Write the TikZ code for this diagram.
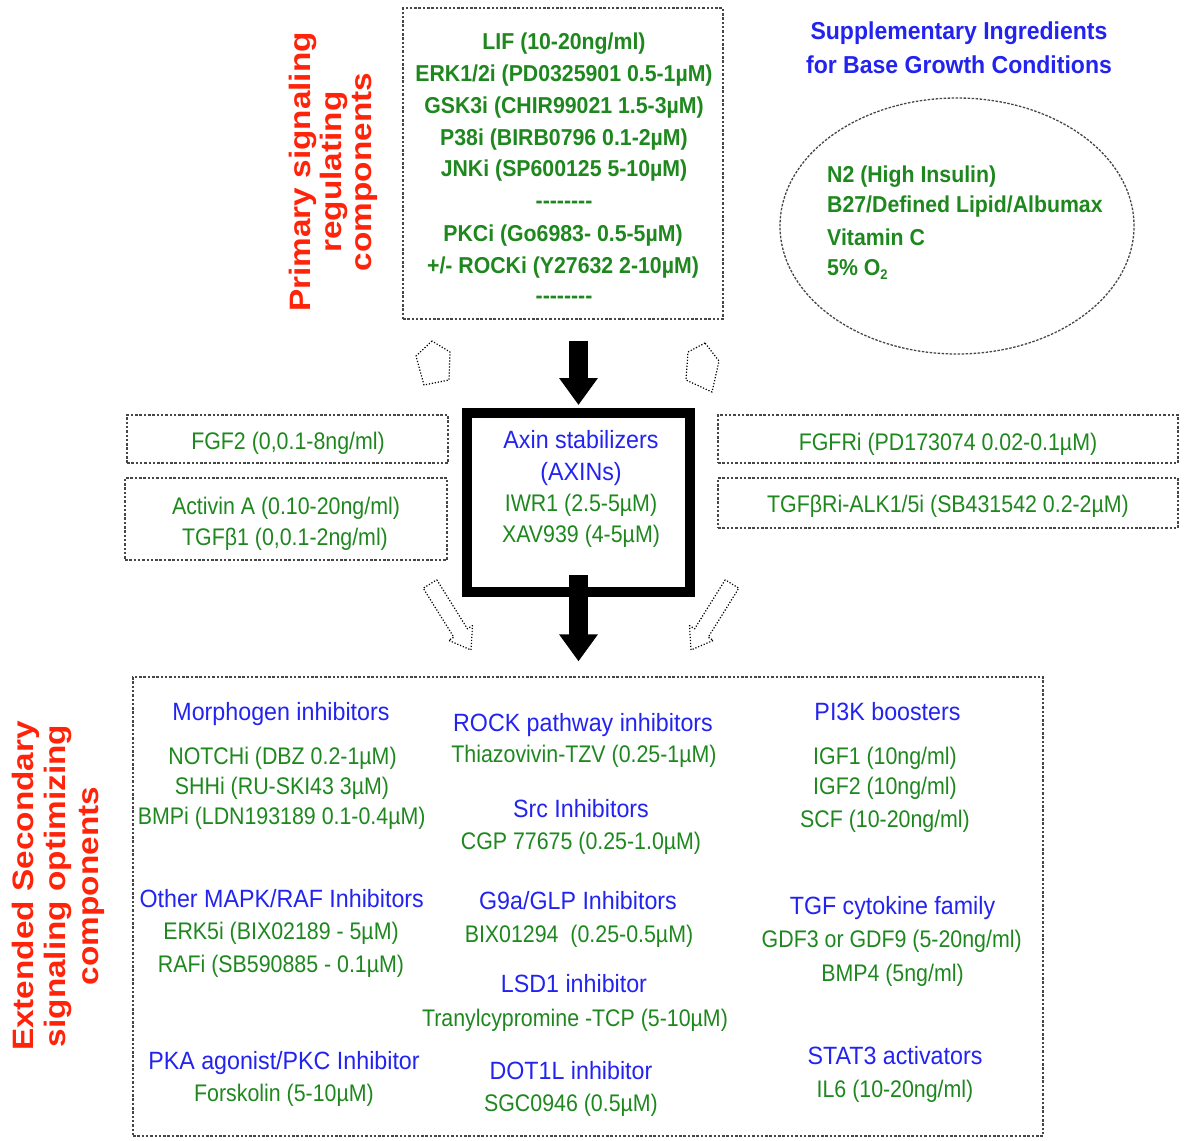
\documentclass[tikz,border=0pt]{standalone}
\usepackage{fontspec}
\setmainfont{Liberation Sans}
\newfontfamily\fgr[FakeStretch=0.89]{Liberation Sans}
\newfontfamily\fbl[FakeStretch=0.93]{Liberation Sans}
\newfontfamily\fgb[FakeStretch=0.925]{Liberation Sans}
\newfontfamily\fbb[FakeStretch=0.94]{Liberation Sans}
\newfontfamily\fred[FakeStretch=1.13]{Liberation Sans}
\usetikzlibrary{arrows.meta,shapes.geometric}
\definecolor{cgreen}{RGB}{30,135,30}
\definecolor{cblue}{RGB}{35,35,240}
\definecolor{cred}{RGB}{255,35,10}
\definecolor{cbord}{RGB}{70,70,70}
\begin{document}
\begin{tikzpicture}[x=1pt,y=-1pt,
  dbox/.style={rectangle, draw=cbord, dash pattern=on 2.5pt off 1.8pt, line width=1.3pt, inner sep=0pt},
  gt/.style={font=\fgr\fontsize{24}{28}\selectfont, text=cgreen, inner sep=0pt, text height=17.2pt, text depth=0pt},
  bt/.style={font=\fbl\fontsize{25}{30}\selectfont, text=cblue, inner sep=0pt, text height=17.9pt, text depth=0pt},
  gb/.style={font=\fgb\bfseries\fontsize{23}{28}\selectfont, text=cgreen, inner sep=0pt, text height=16.5pt, text depth=0pt},
  bb/.style={font=\fbb\bfseries\fontsize{24.5}{28}\selectfont, text=cblue, inner sep=0pt, text height=17.5pt, text depth=0pt},
  rt/.style={font=\fred\bfseries\fontsize{29.5}{34}\selectfont, text=cred, inner sep=0pt, text height=21.1pt, text depth=0pt, rotate=90},
  bigarrow/.style={line width=19pt, -{Triangle[length=27pt,width=37pt]}},
  hollowst/.style={draw=black, dash pattern=on 1.2pt off 1.8pt, line width=1.2pt, fill=white, line join=round}
]
\useasboundingbox (0,0) rectangle (1190,1140);

% ---- boxes ----
\node[dbox, minimum width=320pt, minimum height=311pt] (prim) at (563,163.5) {};
\node[ellipse, draw=cbord, dash pattern=on 2.5pt off 1.5pt, line width=1.3pt, inner sep=0pt,
      minimum width=354pt, minimum height=256pt] (supp) at (957,226) {};
\node[draw=black, line width=10pt, minimum width=223pt, minimum height=179pt, inner sep=0pt] (axin) at (578.5,502.5) {};
\node[dbox, minimum width=321pt, minimum height=48pt] (fgf) at (287.5,439) {};
\node[dbox, minimum width=322pt, minimum height=82pt] (act) at (286,519) {};
\node[dbox, minimum width=460pt, minimum height=48pt] (fgfr) at (948,439) {};
\node[dbox, minimum width=460pt, minimum height=50pt] (tgfr) at (948,503) {};
\node[dbox, minimum width=910pt, minimum height=459pt] (sec) at (588,906.5) {};

% ---- arrows ----
\draw[bigarrow, shorten <=21pt, shorten >=3pt] (axin.north |- prim.south) -- (axin.north);
\draw[bigarrow, shorten >=15pt] ([yshift=22pt]axin.south) -- (axin.south |- sec.north);
% hollow dotted block arrows
\draw[hollowst] (432,341) -- (416,356) -- (424,385) -- (449,380) -- (450,352) -- cycle;
\draw[hollowst] (705,343) -- (688,352) -- (686,380) -- (712,392) -- (719,361) -- cycle;
\draw[hollowst] (436.8,579.8) -- (467.4,628.8) -- (472.5,625.6) -- (471,650) -- (448.7,640.4) -- (453.8,637.2) -- (423.2,588.2) -- cycle;
\draw[hollowst] (725.2,579.8) -- (694.6,628.8) -- (689.5,625.6) -- (691,650) -- (713.3,640.4) -- (708.2,637.2) -- (738.8,588.2) -- cycle;

% ---- red side titles ----
\node[rt] (r1) at (299.5,172) {Primary signaling};
\node[rt] (r2) at (331,172) {regulating};
\node[rt] (r3) at (361,172) {components};
\node[rt] (r4) at (22.5,886) {Extended Secondary};
\node[rt] (r5) at (55,886) {signaling optimizing};
\node[rt] (r6) at (87.5,886) {components};

% ---- top box ----
\node[gb] (p1) at (564,41.7) {LIF (10-20ng/ml)};
\node[gb] (p2) at (564,73) {ERK1/2i (PD0325901 0.5-1µM)};
\node[gb] (p3) at (564,105) {GSK3i (CHIR99021 1.5-3µM)};
\node[gb] (p4) at (564,137) {P38i (BIRB0796 0.1-2µM)};
\node[gb] (p5) at (564,168) {JNKi (SP600125 5-10µM)};
\node[gb] (p6) at (564,200) {-{}-{}-{}-{}-{}-{}-{}-};
\node[gb] (p7) at (563,233) {PKCi (Go6983- 0.5-5µM)};
\node[gb] (p8) at (563,265) {+/- ROCKi (Y27632 2-10µM)};
\node[gb] (p9) at (564,295) {-{}-{}-{}-{}-{}-{}-{}-};

% ---- supplementary ----
\node[bb] (h1) at (959,31) {Supplementary Ingredients};
\node[bb] (h2) at (959,65) {for Base Growth Conditions};
\node[gb, anchor=west] (e1) at (827,174) {N2 (High Insulin)};
\node[gb, anchor=west] (e2) at (827,204) {B27/Defined Lipid/Albumax};
\node[gb, anchor=west] (e3) at (827,237.5) {Vitamin C};
\node[gb, anchor=west] (e4) at (827,267.5) {5\% O\raisebox{-4pt}{\fontsize{14}{14}\selectfont 2}};

% ---- side boxes ----
\node[gt] (tf) at (288,440.5) {FGF2 (0,0.1-8ng/ml)};
\node[gt] (ta1) at (286,506) {Activin A (0.10-20ng/ml)};
\node[gt] (ta2) at (285,537) {TGFβ1 (0,0.1-2ng/ml)};
\node[gt] (tr1) at (948,441.5) {FGFRi (PD173074 0.02-0.1µM)};
\node[gt] (tr2) at (948,503.5) {TGFβRi-ALK1/5i (SB431542 0.2-2µM)};

% ---- centre box ----
\node[bt] (x1) at (581,440) {Axin stabilizers};
\node[bt] (x2) at (581,472) {(AXINs)};
\node[gt] (x3) at (581,503) {IWR1 (2.5-5µM)};
\node[gt] (x4) at (581,534) {XAV939 (4-5µM)};

% ---- bottom box, column 1 ----
\node[bt] (c1a) at (281,712) {Morphogen inhibitors};
\node[gt] (c1b) at (282.5,756) {NOTCHi (DBZ 0.2-1µM)};
\node[gt] (c1c) at (282,786) {SHHi (RU-SKI43 3µM)};
\node[gt] (c1d) at (281.7,816) {BMPi (LDN193189 0.1-0.4µM)};
\node[bt] (c1e) at (281.7,899) {Other MAPK/RAF Inhibitors};
\node[gt] (c1f) at (281,931) {ERK5i (BIX02189 - 5µM)};
\node[gt] (c1g) at (281,964) {RAFi (SB590885 - 0.1µM)};
\node[bt] (c1h) at (284,1061) {PKA agonist/PKC Inhibitor};
\node[gt] (c1i) at (284,1093) {Forskolin (5-10µM)};

% ---- column 2 ----
\node[bt] (c2a) at (583,722.5) {ROCK pathway inhibitors};
\node[gt] (c2b) at (584,754) {Thiazovivin-TZV (0.25-1µM)};
\node[bt] (c2c) at (581,809) {Src Inhibitors};
\node[gt] (c2d) at (581,841) {CGP 77675 (0.25-1.0µM)};
\node[bt] (c2e) at (578,901) {G9a/GLP Inhibitors};
\node[gt] (c2f) at (579,934) {BIX01294~~(0.25-0.5µM)};
\node[bt] (c2g) at (574,984) {LSD1 inhibitor};
\node[gt] (c2h) at (575,1017.5) {Tranylcypromine -TCP (5-10µM)};
\node[bt] (c2i) at (571,1071) {DOT1L inhibitor};
\node[gt] (c2j) at (571,1103) {SGC0946 (0.5µM)};

% ---- column 3 ----
\node[bt] (c3a) at (887.5,712) {PI3K boosters};
\node[gt] (c3b) at (885,756) {IGF1 (10ng/ml)};
\node[gt] (c3c) at (885,786) {IGF2 (10ng/ml)};
\node[gt] (c3d) at (885,819) {SCF (10-20ng/ml)};
\node[bt] (c3e) at (892.5,906) {TGF cytokine family};
\node[gt] (c3f) at (891.7,939) {GDF3 or GDF9 (5-20ng/ml)};
\node[gt] (c3g) at (892.5,972.5) {BMP4 (5ng/ml)};
\node[bt] (c3h) at (895,1056) {STAT3 activators};
\node[gt] (c3i) at (895,1089) {IL6 (10-20ng/ml)};
\end{tikzpicture}
\end{document}
